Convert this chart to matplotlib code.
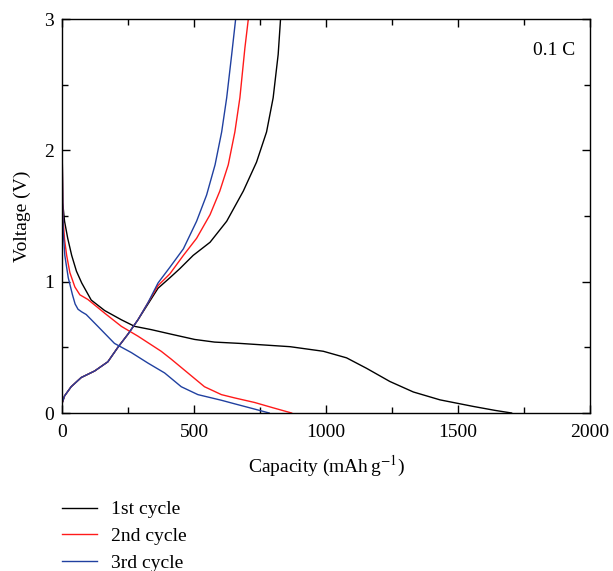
import matplotlib
matplotlib.use("Agg")
import matplotlib.pyplot as plt
from matplotlib.ticker import MultipleLocator

plt.rcParams['font.family'] = ['Liberation Serif', 'DejaVu Serif']
plt.rcParams['mathtext.fontset'] = 'stix'

# ---- data ----
# 1st cycle
dis1_cap = [0, 1, 3, 10, 22, 37, 55, 75, 111, 162, 225, 275, 338, 414, 503, 578, 674, 864, 990,
            1078, 1154, 1242, 1331, 1432, 1558, 1640, 1703]
dis1_v = [2.65, 2.0, 1.6, 1.46, 1.33, 1.2, 1.08, 0.99, 0.86, 0.78, 0.71, 0.66, 0.635, 0.60, 0.56,
          0.54, 0.53, 0.505, 0.47, 0.42, 0.34, 0.24, 0.16, 0.10, 0.05, 0.02, 0.0]
chg1_cap = [0, 10, 35, 73, 124, 174, 212, 250, 288, 326, 364, 409, 447, 497, 561, 624, 687, 737,
            775, 800, 819, 828]
chg1_v = [0.07, 0.13, 0.20, 0.27, 0.32, 0.39, 0.50, 0.60, 0.71, 0.83, 0.95, 1.03, 1.10, 1.20, 1.30,
          1.46, 1.69, 1.91, 2.14, 2.40, 2.73, 3.0]
# 2nd cycle
dis2_cap = [0, 1, 3, 5, 10, 18, 30, 49, 68, 98, 162, 225, 288, 376, 414, 477, 540, 604, 654, 730,
            799, 870]
dis2_v = [2.35, 2.0, 1.6, 1.46, 1.32, 1.2, 1.07, 0.96, 0.90, 0.865, 0.76, 0.66, 0.585, 0.47, 0.41,
          0.305, 0.20, 0.14, 0.115, 0.08, 0.04, 0.0]
chg2_cap = [0, 10, 35, 73, 124, 174, 212, 250, 288, 326, 364, 409, 460, 510, 561, 598, 630, 655,
            674, 693, 706]
chg2_v = [0.07, 0.13, 0.20, 0.27, 0.32, 0.39, 0.50, 0.60, 0.71, 0.84, 0.97, 1.06, 1.20, 1.33,
          1.51, 1.69, 1.89, 2.14, 2.40, 2.78, 3.0]
# 3rd cycle
dis3_cap = [0, 1, 3, 5, 11, 24, 40, 50, 61, 75, 92, 136, 199, 263, 326, 389, 452, 515, 604, 654,
            720, 785]
dis3_v = [2.32, 2.0, 1.6, 1.38, 1.2, 1.03, 0.90, 0.83, 0.79, 0.77, 0.75, 0.66, 0.53, 0.46, 0.38,
          0.305, 0.20, 0.14, 0.097, 0.07, 0.035, 0.0]
chg3_cap = [0, 10, 35, 73, 124, 174, 212, 250, 288, 326, 364, 409, 460, 510, 548, 580, 605, 624,
            643, 658]
chg3_v = [0.07, 0.13, 0.20, 0.27, 0.32, 0.39, 0.50, 0.60, 0.71, 0.84, 0.99, 1.11, 1.25, 1.46,
          1.66, 1.89, 2.14, 2.40, 2.73, 3.0]

labels = ['1st cycle', '2nd cycle', '3rd cycle']
colors = ['black', '#ff1a1a', '#2040a0']

fig = plt.figure(figsize=(6.13, 5.71), dpi=100)
ax = fig.add_axes([0.101, 0.2767, 0.8615, 0.69])

lw = 1.0
series = [(dis1_cap, dis1_v, chg1_cap, chg1_v),
          (dis2_cap, dis2_v, chg2_cap, chg2_v),
          (dis3_cap, dis3_v, chg3_cap, chg3_v)]
for (dc, dv, cc, cv), lab, col in zip(series, labels, colors):
    ax.plot(dc, dv, color=col, lw=lw, label=lab, solid_joinstyle='round')
    ax.plot(cc, cv, color=col, lw=lw, solid_joinstyle='round')

fs = 14
ax.set_xlim(0, 2000)
ax.set_ylim(0, 3)
ax.xaxis.set_major_locator(MultipleLocator(500))
ax.xaxis.set_minor_locator(MultipleLocator(250))
ax.yaxis.set_major_locator(MultipleLocator(1))
ax.yaxis.set_minor_locator(MultipleLocator(0.5))
ax.tick_params(which='both', direction='in', top=True, right=True, labelsize=fs, width=1)
ax.tick_params(which='major', length=6)
ax.tick_params(which='minor', length=4)
ax.tick_params(axis='x', which='both', pad=8)
ax.tick_params(axis='y', which='both', pad=5.7)
for s in ax.spines.values():
    s.set_linewidth(1.0)

ax.set_xlabel(r'Capacity (mAh$\,$g$^{-1}$)', fontsize=fs, labelpad=9)
ax.set_ylabel('Voltage (V)', fontsize=fs, labelpad=9.5)
ax.text(0.972, 0.92, '0.1 C', transform=ax.transAxes, ha='right', va='center', fontsize=fs)

handles, labs = ax.get_legend_handles_labels()
fig.legend(handles, labs, loc='upper left', bbox_to_anchor=(0.101, 0.1228), frameon=False,
           fontsize=fs, handlelength=1.8, handletextpad=0.7, labelspacing=0.46,
           borderpad=0.0, borderaxespad=0.0)

fig.savefig('out.png', dpi=100)
